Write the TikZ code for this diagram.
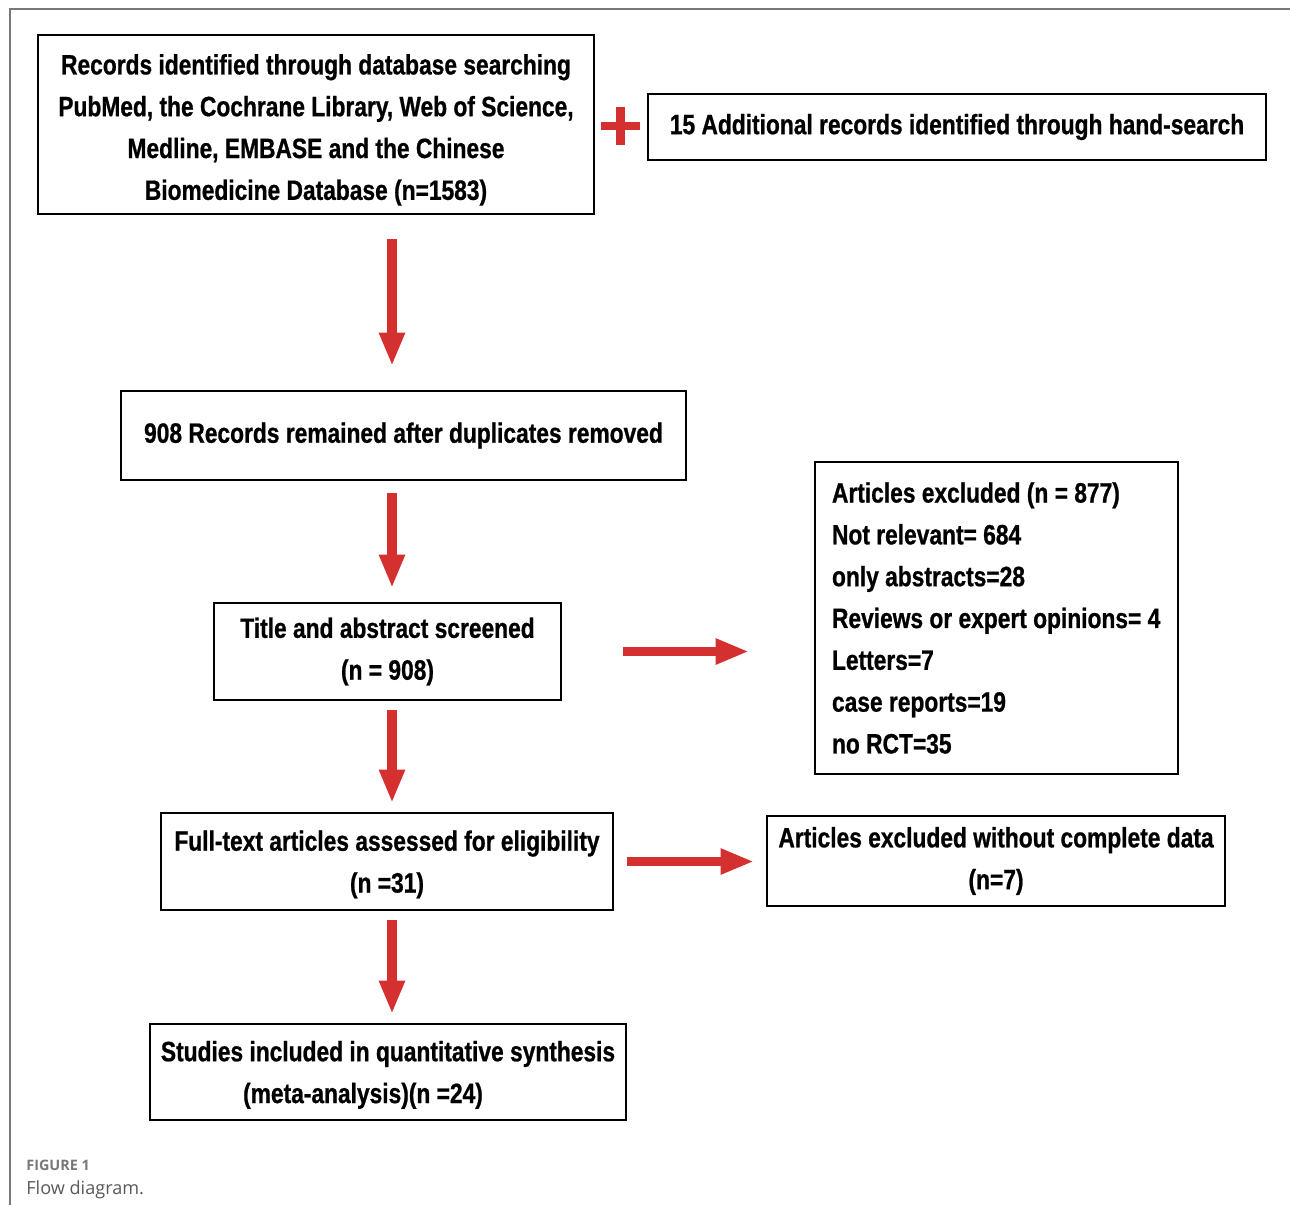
\documentclass[tikz,border=0pt]{standalone}
\usepackage{fontspec}
\newfontfamily\flowfont[FakeStretch=0.815, FakeBold=0.8]{Liberation Sans}
\newfontfamily\capfont{Open Sans}
\usetikzlibrary{arrows.meta}
\definecolor{arrowred}{RGB}{213,48,48}
\definecolor{framegray}{RGB}{120,120,120}
\newlength\px
\setlength\px{0.02cm}
\tikzset{
  flowbox/.style={draw, line width=1.1pt, align=center, inner sep=0pt,
    font=\flowfont\bfseries\fontsize{15.9}{23.8}\selectfont},
  bigarrow/.style={arrowred, line width=5.2pt,
    -{Triangle[length=19pt, width=13.6pt]}}
}
\begin{document}
\begin{tikzpicture}[x=0.02cm, y=-0.02cm]
  \useasboundingbox (0,0) rectangle (1290,1205);
  % page frame
  \draw[framegray, line width=1.1pt] (1290,9) -- (10,9) -- (10,1205);

  \node[flowbox, minimum width=556\px, minimum height=179\px] (search) at (316,124.5)
    {\rule{0pt}{31\px}Records identified through database searching\\
     PubMed, the Cochrane Library, Web of Science,\\
     Medline, EMBASE and the Chinese\\
     Biomedicine Database (n=1583)};
  \node[flowbox, minimum width=618\px, minimum height=66\px] (hand) at (957,127)
    {15 Additional records identified through hand-search};
  \node[flowbox, minimum width=565\px, minimum height=89\px] (dedup) at (403.5,435.5)
    {908 Records remained after duplicates removed};
  \node[flowbox, minimum width=347\px, minimum height=97\px] (screen) at (387.5,651.5)
    {Title and abstract screened\\(n = 908)};
  \node[flowbox, align=flush left, inner xsep=17\px, text width=329\px, minimum height=312\px] (excl) at (996.5,618)
    {Articles excluded (n = 877)\\
     Not relevant= 684\\
     only abstracts=28\\
     Reviews or expert opinions= 4\\
     Letters=7\\
     case reports=19\\
     no RCT=35};
  \node[flowbox, minimum width=452\px, minimum height=97\px] (full) at (387,861.5)
    {\rule{0pt}{26\px}Full-text articles assessed for eligibility\\(n =31)};
  \node[flowbox, minimum width=458\px, minimum height=90\px] (nodata) at (996,861)
    {Articles excluded without complete data\\(n=7)};
  \node[flowbox, minimum width=476\px, minimum height=96\px] (incl) at (388,1072)
    {\rule{0pt}{26\px}Studies included in quantitative synthesis\\
     (meta-analysis)(n =24)\hspace*{50\px}};

  % plus sign
  \draw[arrowred, line width=4.6pt] (601,126) -- (640,126) (620.5,107) -- (620.5,145);

  \coordinate (spine) at (392,0);
  \draw[bigarrow, shorten <=24\px, shorten >=24\px] (search.south -| spine) -- (dedup.north -| spine);
  \draw[bigarrow, shorten <=12\px, shorten >=14\px] (dedup.south -| spine) -- (screen.north -| spine);
  \draw[bigarrow, shorten <=9\px, shorten >=9\px] (screen.south -| spine) -- (full.north -| spine);
  \draw[bigarrow, shorten <=9\px, shorten >=9\px] (full.south -| spine) -- (incl.north -| spine);
  \draw[bigarrow, shorten <=61\px, shorten >=65\px] (screen.east) -- (screen.east -| excl.west);
  \draw[bigarrow, shorten <=13\px, shorten >=12\px] (full.east) -- (full.east -| nodata.west);

  % caption
  \node[anchor=base west, inner sep=0pt, text=framegray, font=\capfont\bfseries\fontsize{8.2}{10}\selectfont]
    (figno) at (26,1170) {FIGURE 1};
  \node[anchor=base west, inner sep=0pt, text=black!65, font=\capfont\fontsize{10.3}{12}\selectfont]
    (figcap) at (26,1194) {Flow diagram.};
\end{tikzpicture}
\end{document}
